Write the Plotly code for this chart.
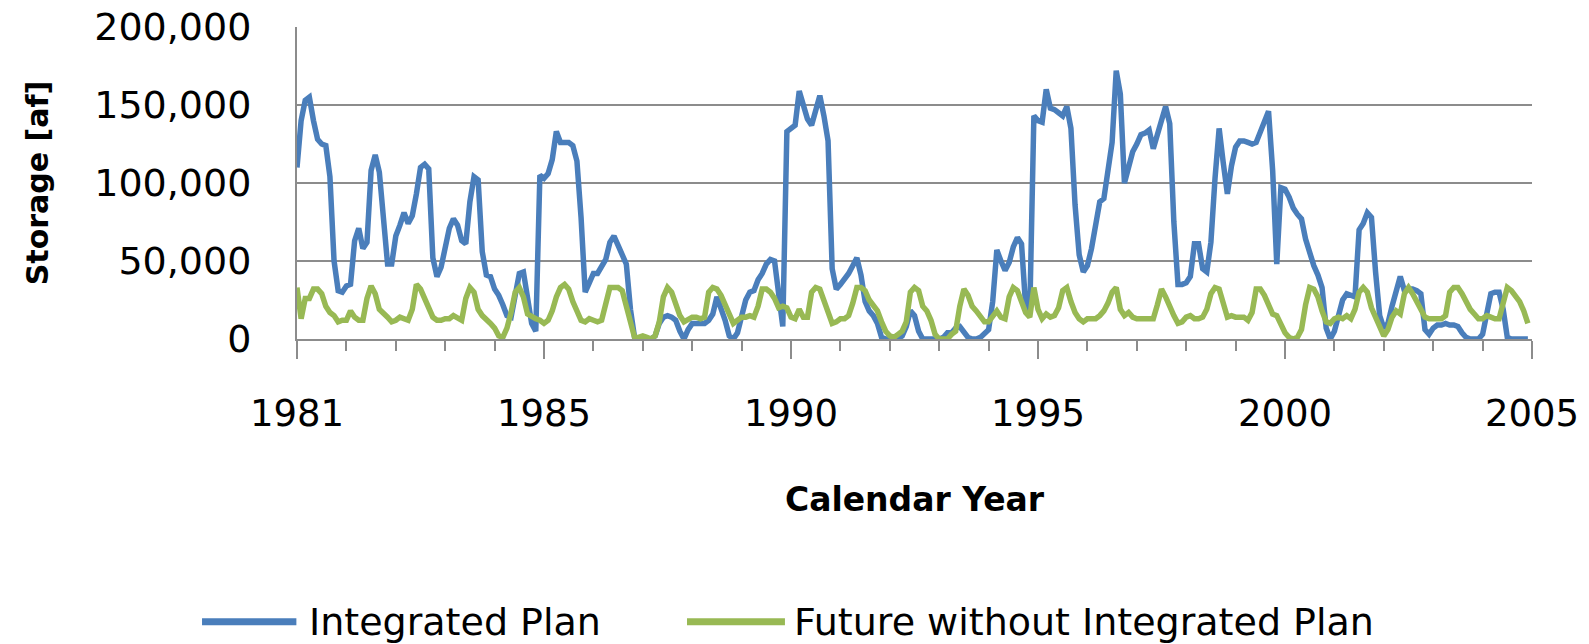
import plotly.graph_objects as go

# Monthly storage, thousands of acre-feet, Jan 1981 .. Dec 2005 (300 months)
integrated_plan_kaf = [
    110, 140, 153, 155, 140, 128, 125, 124, 104, 50, 31, 30,
    34, 35, 63, 71, 58, 62, 108, 118, 107, 79, 48, 48,
    66, 73, 81, 74, 79, 93, 110, 112, 109, 52, 40, 46,
    58, 71, 77, 73, 63, 61, 88, 104, 102, 56, 41, 40,
    32, 28, 22, 15, 14, 30, 42, 43, 28, 10, 5, 105,
    103, 106, 115, 133, 126, 126, 126, 124, 114, 78, 30, 36,
    42, 42, 46, 51, 62, 66, 60, 54, 48, 19, 1, 0,
    0, 0, 0, 2, 10, 14, 15, 14, 12, 5, 0, 6,
    10, 10, 10, 10, 12, 16, 27, 20, 12, 2, 0, 4,
    15, 25, 30, 31, 38, 42, 48, 51, 50, 28, 8, 133,
    135, 137, 159, 150, 141, 137, 147, 156, 143, 127, 45, 32,
    35, 38, 42, 47, 52, 41, 24, 18, 15, 10, 1, 0,
    0, 0, 0, 2, 8, 18, 15, 5, 0, 0, 0, 0,
    0, 1, 4, 4, 7, 8, 5, 1, 0, 0, 1, 3,
    6, 24, 57, 50, 44, 49, 59, 65, 61, 21, 17, 143,
    140, 139, 160, 148, 147, 145, 143, 149, 135, 86, 54, 43,
    47, 58, 71, 88, 90, 106, 126, 172, 157, 100, 110, 120,
    125, 131, 132, 134, 122, 130, 140, 149, 138, 75, 35, 35,
    36, 40, 61, 61, 45, 43, 62, 103, 135, 113, 93, 111,
    123, 127, 127, 126, 125, 126, 133, 141, 146, 108, 48, 97,
    96, 91, 84, 80, 77, 64, 55, 47, 41, 33, 7, 0,
    5, 17, 25, 29, 28, 27, 70, 74, 81, 78, 43, 15,
    7, 10, 21, 32, 40, 31, 32, 32, 31, 29, 6, 3,
    7, 9, 9, 10, 9, 9, 8, 4, 1, 0, 0, 0,
    3, 17, 29, 30, 30, 19, 1, 0, 0, 0, 0, 0,
]

future_without_kaf = [
    33, 13, 26, 26, 32, 32, 29, 21, 17, 15, 11, 12,
    12, 18, 14, 12, 12, 26, 34, 29, 19, 17, 14, 11,
    12, 14, 13, 12, 19, 35, 32, 26, 18, 14, 12, 12,
    13, 13, 15, 13, 12, 26, 33, 30, 19, 15, 13, 10,
    7, 2, 1, 7, 17, 30, 33, 27, 16, 14, 13, 12,
    10, 12, 18, 27, 33, 35, 32, 24, 18, 12, 11, 13,
    12, 11, 12, 21, 33, 33, 33, 31, 20, 10, 1, 1,
    2, 1, 0, 2, 11, 27, 33, 30, 23, 15, 11, 13,
    14, 14, 13, 14, 30, 33, 32, 28, 22, 14, 10, 12,
    14, 14, 15, 14, 21, 32, 32, 30, 26, 20, 21, 20,
    14, 13, 19, 14, 14, 30, 33, 32, 25, 19, 10, 11,
    13, 13, 15, 23, 33, 33, 31, 25, 21, 18, 11, 5,
    2, 1, 3, 5, 11, 30, 33, 31, 21, 18, 12, 3,
    0, 0, 0, 3, 5, 21, 32, 28, 21, 18, 15, 11,
    11, 15, 18, 14, 13, 27, 33, 31, 24, 17, 14, 33,
    19, 13, 16, 14, 15, 20, 31, 33, 24, 17, 13, 11,
    13, 13, 13, 15, 18, 23, 30, 33, 19, 15, 17, 14,
    13, 13, 13, 13, 13, 22, 32, 27, 20, 15, 10, 11,
    14, 15, 13, 13, 14, 19, 29, 33, 32, 22, 14, 15,
    14, 14, 14, 12, 17, 32, 32, 28, 21, 16, 15, 10,
    4, 1, 0, 1, 6, 22, 33, 32, 27, 18, 11, 10,
    13, 14, 13, 15, 13, 19, 30, 33, 30, 20, 14, 9,
    2, 6, 14, 18, 16, 29, 33, 29, 24, 18, 14, 13,
    13, 13, 13, 15, 30, 33, 33, 29, 24, 19, 16, 13,
    13, 15, 14, 13, 13, 23, 33, 31, 28, 24, 18, 10,
]

year_tick_labels = ["1981", "1985", "1990", "1995", "2000", "2005"]
year_tick_months = [0, 60, 120, 180, 240, 300]
storage_ticks = [0, 50000, 100000, 150000, 200000]
series_names = ["Integrated Plan", "Future without Integrated Plan"]
series_colors = ["#4A7EBB", "#98B954"]

months = list(range(len(integrated_plan_kaf)))
integrated_plan = [v * 1000 for v in integrated_plan_kaf]
future_without = [v * 1000 for v in future_without_kaf]

FONT = "DejaVu Sans"
GRID = "#8C8C8C"

fig = go.Figure()
for name, ys, color in zip(series_names, [integrated_plan, future_without], series_colors):
    fig.add_trace(go.Scatter(
        x=months, y=ys, mode="lines", name=name,
        line=dict(color=color, width=5.5, shape="linear"),
        showlegend=False,
    ))

# Manual legend (long line samples like the original)
legend_items = [
    (series_names[0], series_colors[0], -0.0769, -0.0005, 0.0081),
    (series_names[1], series_colors[1], 0.3158, 0.3951, 0.4005),
]
legend_y = -0.906
for text, color, x0, x1, xt in legend_items:
    fig.add_shape(type="line", xref="paper", yref="paper",
                  x0=x0, x1=x1, y0=legend_y, y1=legend_y,
                  line=dict(color=color, width=7))
    fig.add_annotation(xref="paper", yref="paper", x=xt, y=legend_y,
                       text=text, showarrow=False, xanchor="left", yanchor="middle",
                       font=dict(family=FONT, size=38, color="black"))

fig.update_layout(
    width=1589, height=644,
    margin=dict(l=297, r=57, t=27, b=305, autoexpand=False),
    paper_bgcolor="white", plot_bgcolor="white",
    font=dict(family=FONT, color="black"),
    xaxis=dict(
        range=[0, 300], automargin=False,
        tickmode="array", tickvals=year_tick_months, ticktext=year_tick_labels,
        ticks="outside", ticklen=18, tickwidth=2, tickcolor=GRID,
        showline=True, linecolor=GRID, linewidth=2,
        showgrid=False, zeroline=False,
        tickfont=dict(family=FONT, size=37, color="black"),
        ticklabelstandoff=23, ticklabeloverflow="allow",
        minor=dict(dtick=12, tick0=0, ticks="outside", ticklen=10,
                   tickwidth=2, tickcolor=GRID, showgrid=False),
        title=dict(text="<b>Calendar Year</b>", standoff=53,
                   font=dict(family=FONT, size=33, color="black")),
    ),
    yaxis=dict(
        range=[0, 200000], tickmode="array", tickvals=storage_ticks,
        tickformat=",d", automargin=False,
        ticks="", showline=True, linecolor=GRID, linewidth=2,
        showgrid=True, gridcolor=GRID, gridwidth=2, zeroline=False,
        tickfont=dict(family=FONT, size=38, color="black"),
        ticklabelstandoff=36, ticklabeloverflow="allow",
        title=dict(text="<b>Storage [af]</b>", standoff=37,
                   font=dict(family=FONT, size=30, color="black")),
    ),
)

# Remove the default page margin so the figure fills the window exactly.
fig.write_html("out.html", config={"displayModeBar": False},
               post_script="document.body.style.margin='0';")
